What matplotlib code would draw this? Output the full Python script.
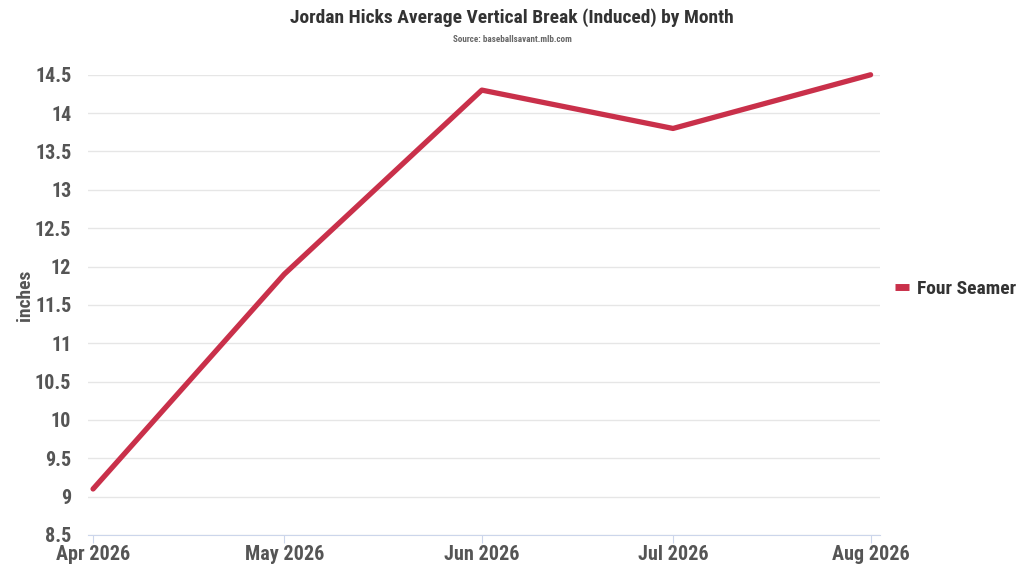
import numpy as np
import pandas as pd
import matplotlib
matplotlib.use('Agg')
import matplotlib.pyplot as plt
import matplotlib.dates as mdates
from matplotlib import font_manager

# data
months = ['2026-04-01', '2026-05-01', '2026-06-01', '2026-07-01', '2026-08-01']
ivb = [9.1, 11.9, 14.3, 13.8, 14.5]
series_name = 'Four Seamer'

names = {f.name for f in font_manager.fontManager.ttflist}
fam = 'Roboto Condensed' if 'Roboto Condensed' in names else 'Roboto'
plt.rcParams['font.family'] = [fam, 'DejaVu Sans']
plt.rcParams['font.stretch'] = 'condensed'

dates = pd.to_datetime(months)

fig = plt.figure(figsize=(10.24, 5.76), dpi=100)
ax = fig.add_axes([0.0859, 0.0712, 0.773, 0.799])

ax.plot(dates, ivb, color='#c9304a', lw=3.8, solid_capstyle='round', label=series_name,
        clip_on=False, zorder=3)

ax.set_ylim(8.5, 14.5)
ax.set_yticks(np.arange(8.5, 14.51, 0.5))
ax.set_yticklabels(['%g' % v for v in np.arange(8.5, 14.51, 0.5)])
ax.set_xlim(dates[0] - pd.Timedelta(days=0.8), dates[-1] + pd.Timedelta(days=1.4))
ax.set_xticks(dates)
ax.xaxis.set_major_formatter(mdates.DateFormatter('%b %Y'))

ax.grid(axis='y', color='#e6e6e6', lw=1)
ax.set_axisbelow(True)
for s in ['top', 'right', 'left']:
    ax.spines[s].set_visible(False)
ax.spines['bottom'].set_color('#ccd6eb')
ax.tick_params(axis='y', length=0, pad=12, labelsize=14.5, labelcolor='#555555')
ax.tick_params(axis='x', length=6, color='#ccd6eb', pad=1, labelsize=14.5, labelcolor='#555555')
for t in ax.get_xticklabels() + ax.get_yticklabels():
    t.set_fontweight('bold')

ax.set_ylabel('inches', fontsize=14, fontweight='bold', color='#555555')
ax.yaxis.set_label_coords(-0.068, 0.52)

fig.text(0.5, 0.97, 'Jordan Hicks Average Vertical Break (Induced) by Month',
         ha='center', va='center', fontsize=14, fontweight='bold', color='#333333')
fig.text(0.5, 0.932, 'Source: baseballsavant.mlb.com',
         ha='center', va='center', fontsize=6.5, fontweight='bold', color='#666666')

leg = ax.legend(loc='center left', bbox_to_anchor=(0.998, 0.535), frameon=False,
                handlelength=0.7, handletextpad=0.4, prop={'size': 14, 'weight': 'bold'})
for t in leg.get_texts():
    t.set_color('#333333')
for h in leg.get_lines():
    h.set_linewidth(5)
    h.set_solid_capstyle('butt')

fig.savefig('out.png', dpi=100)
